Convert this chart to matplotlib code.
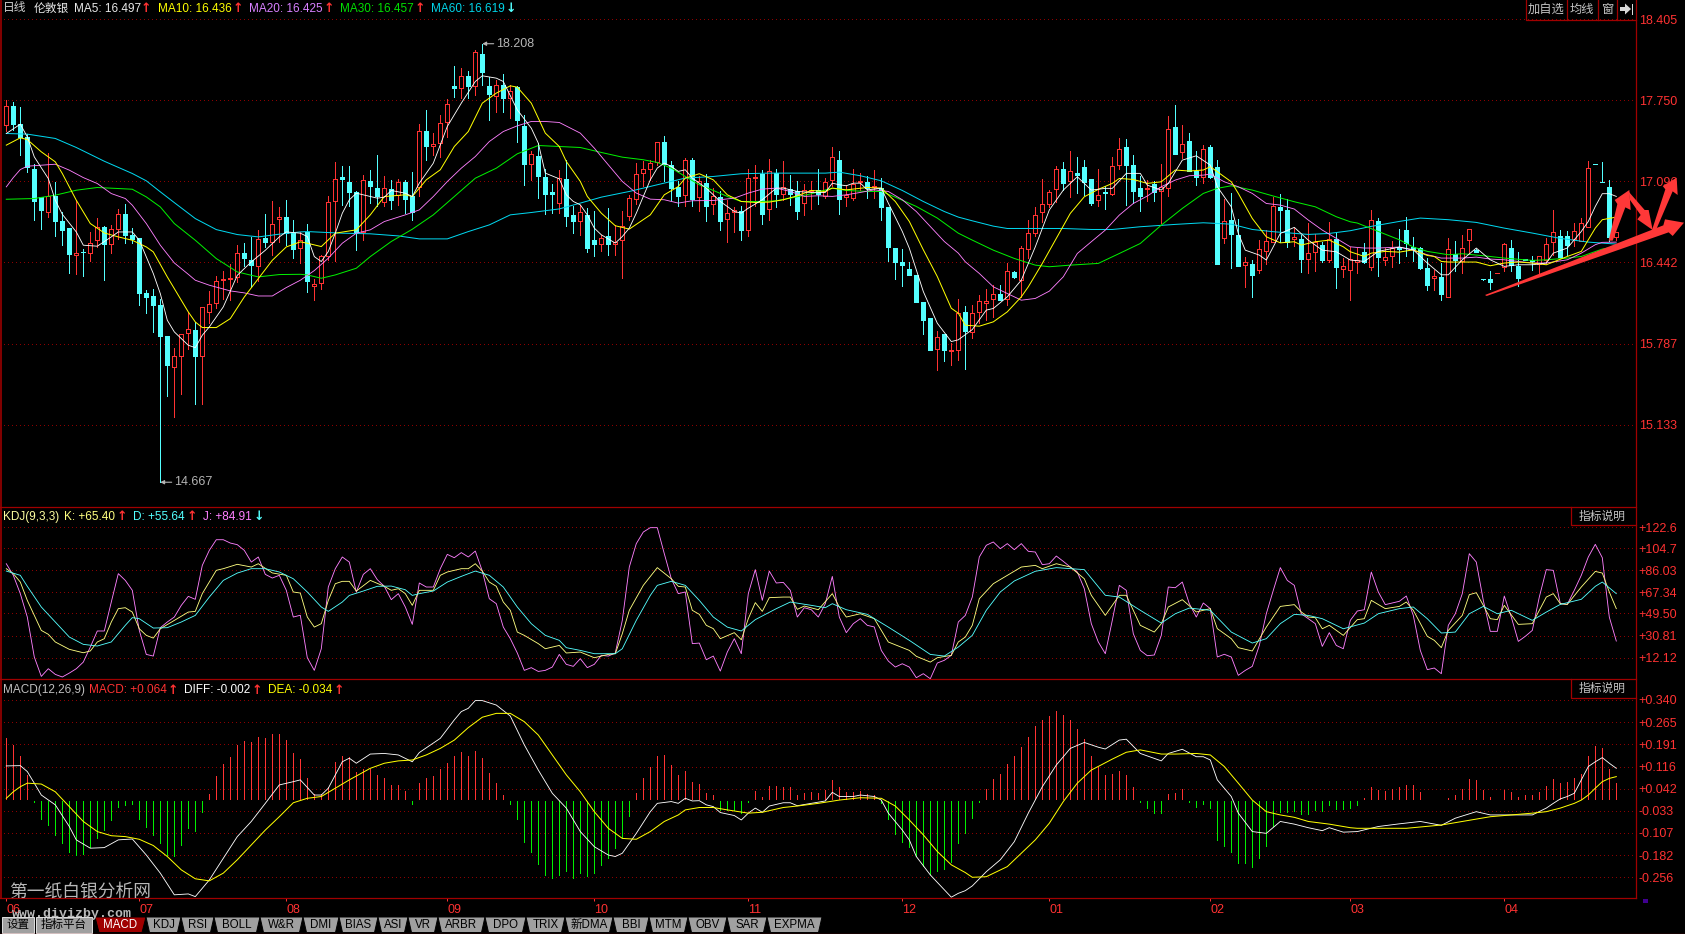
import matplotlib
matplotlib.use("Agg")
import matplotlib.pyplot as plt
from matplotlib.patches import Polygon, Rectangle

plt.rcParams['font.family'] = ['Liberation Sans', 'Noto Sans CJK SC', 'DejaVu Sans']

opens = [17.553,17.704,17.559,17.454,17.195,16.97,16.852,16.98,16.775,16.72,
16.50,16.53,16.52,16.625,16.724,16.59,16.713,16.83,16.66,16.64,
16.195,16.17,16.097,15.846,15.598,15.69,15.87,15.90,15.688,16.04,
16.115,16.30,16.31,16.325,16.52,16.46,16.415,16.64,16.605,16.795,
16.81,16.68,16.557,16.69,16.255,16.274,16.49,16.937,17.133,17.09,
17.007,16.686,17.10,17.045,16.926,17.034,16.985,17.09,16.975,17.055,
17.50,17.38,17.405,17.572,17.868,17.85,17.946,17.863,18.127,17.868,
17.782,17.874,17.766,17.858,17.545,17.233,17.303,17.13,17.012,16.921,
17.118,16.827,16.778,16.827,16.625,16.592,16.652,16.592,16.62,16.813,
16.953,17.16,17.2,17.25,17.414,17.228,17.048,16.99,17.27,16.97,
17.083,16.91,16.97,16.79,16.848,16.854,16.70,17.125,17.155,16.87,
17.163,16.996,17.037,17.015,16.921,17.015,17.028,16.98,17.104,17.271,
16.972,16.966,17.093,17.093,17.048,17.042,16.891,16.557,16.447,16.39,
16.342,16.124,15.995,15.742,15.865,15.728,15.736,16.04,15.88,16.043,
16.116,16.148,16.186,16.143,16.366,16.304,16.552,16.681,16.851,16.913,
17.031,17.193,17.10,17.16,17.209,17.115,16.943,17.013,16.994,17.225,
17.373,17.228,17.042,17.037,17.072,17.015,17.04,17.535,17.336,17.422,
17.18,17.128,17.373,17.212,16.636,16.784,16.662,16.423,16.428,16.382,
16.536,16.609,16.889,16.864,16.635,16.635,16.471,16.526,16.582,16.46,
16.635,16.39,16.377,16.442,16.525,16.409,16.778,16.46,16.49,16.566,
16.706,16.566,16.557,16.396,16.315,16.323,16.16,16.511,16.45,16.62,
16.544,16.307,16.307,16.355,16.409,16.557,16.415,16.47,16.463,16.431,
16.463,16.603,16.657,16.657,16.633,16.611,16.732,17.239,17.093,17.05,
16.649]
closes = [17.704,17.559,17.454,17.209,16.94,16.864,16.98,16.775,16.703,16.51,
16.52,16.525,16.595,16.724,16.59,16.708,16.83,16.66,16.63,16.197,
16.16,16.10,15.846,15.612,15.685,15.866,15.905,15.69,16.086,16.11,
16.288,16.305,16.32,16.52,16.48,16.425,16.635,16.605,16.755,16.81,
16.676,16.55,16.62,16.29,16.27,16.49,16.93,17.115,17.117,17.007,
16.68,17.11,17.063,16.98,17.04,16.95,17.09,16.955,16.85,17.50,
17.38,17.40,17.567,17.72,17.847,17.946,17.863,18.14,17.976,17.804,
17.874,17.766,17.823,17.588,17.233,17.316,17.136,16.996,16.996,17.123,
16.813,16.778,16.848,16.56,16.592,16.638,16.592,16.61,16.733,16.96,
17.155,17.196,17.244,17.414,17.238,17.045,16.98,17.266,16.956,17.10,
16.90,16.975,16.773,16.84,16.867,16.70,17.123,17.13,16.835,17.18,
16.996,17.05,16.996,16.858,17.023,17.026,16.996,17.093,17.293,16.956,
16.985,17.074,17.10,17.042,17.06,16.891,16.568,16.447,16.425,16.342,
16.124,15.98,15.736,15.84,15.736,15.735,16.032,15.89,16.03,16.132,
16.127,16.183,16.137,16.369,16.323,16.555,16.676,16.821,16.91,17.007,
17.193,17.085,17.177,17.147,17.09,16.924,16.99,17.004,17.217,17.355,
17.228,17.018,16.978,17.045,17.01,17.047,17.516,17.32,17.395,17.177,
17.128,17.355,17.131,16.431,16.773,16.673,16.415,16.442,16.339,16.547,
16.611,16.894,16.867,16.609,16.646,16.471,16.522,16.606,16.458,16.63,
16.407,16.412,16.47,16.463,16.442,16.786,16.482,16.485,16.557,16.55,
16.598,16.55,16.398,16.261,16.334,16.188,16.549,16.458,16.557,16.711,
16.53,16.305,16.28,16.36,16.59,16.423,16.32,16.46,16.453,16.49,
16.59,16.687,16.485,16.584,16.697,16.759,17.204,17.233,17.088,16.644,
16.684]
highs = [17.75,17.737,17.693,17.48,17.236,16.97,17.322,17.09,16.85,16.72,
16.945,16.547,16.69,16.797,16.735,16.743,16.87,16.91,16.716,16.64,
16.22,16.23,16.15,15.846,15.747,15.866,16.04,15.96,16.086,16.21,
16.336,16.37,16.43,16.58,16.60,16.645,16.70,16.83,16.937,16.89,
16.95,16.785,16.69,16.75,16.31,16.50,16.975,17.25,17.22,17.217,
17.015,17.15,17.19,17.31,17.14,17.11,17.115,17.11,17.17,17.56,
17.675,17.486,17.634,17.763,18.03,18.01,17.99,18.16,18.208,17.94,
17.917,17.965,17.877,17.87,17.634,17.343,17.405,17.2,17.074,17.19,
17.271,16.894,16.907,16.88,16.854,16.665,16.88,16.746,16.854,16.988,
17.244,17.258,17.271,17.414,17.465,17.258,17.10,17.287,17.285,17.136,
17.155,17.04,17.015,16.948,16.888,16.90,17.196,17.23,17.19,17.28,
17.2,17.258,17.15,17.10,17.077,17.10,17.2,17.123,17.373,17.344,
17.07,17.2,17.168,17.136,17.19,17.123,16.891,16.557,16.55,16.442,
16.342,16.124,15.995,15.89,15.865,15.795,16.145,16.09,16.10,16.178,
16.23,16.258,16.258,16.44,16.37,16.574,16.784,16.891,17.115,17.03,
17.22,17.255,17.341,17.29,17.268,17.115,17.193,17.06,17.29,17.446,
17.435,17.31,17.14,17.107,17.098,17.24,17.624,17.713,17.551,17.486,
17.341,17.39,17.39,17.268,16.953,16.999,16.79,16.482,16.46,16.627,
16.703,16.972,16.994,16.958,16.716,16.662,16.757,16.671,16.609,16.768,
16.689,16.474,16.57,16.557,16.6,16.867,16.8,16.557,16.611,16.71,
16.808,16.65,16.57,16.477,16.382,16.436,16.638,16.611,16.665,16.711,
16.55,16.31,16.369,16.36,16.598,16.625,16.525,16.47,16.495,16.49,
16.643,16.867,16.7,16.692,16.759,16.8,17.263,17.239,17.255,17.11,
16.684]
lows = [17.505,17.51,17.31,17.175,16.783,16.714,16.81,16.654,16.58,16.36,
16.35,16.334,16.45,16.57,16.30,16.52,16.635,16.60,16.60,16.097,
16.035,15.88,14.667,15.36,15.195,15.38,15.74,15.30,15.297,15.954,
16.07,16.15,16.135,16.285,16.41,16.245,16.29,16.57,16.50,16.61,
16.58,16.48,16.436,16.207,16.14,16.226,16.463,16.457,16.907,16.894,
16.54,16.624,16.92,16.894,16.90,16.87,16.907,16.84,16.786,16.975,
17.27,17.31,17.29,17.454,17.78,17.77,17.77,17.79,17.876,17.59,
17.66,17.66,17.607,17.416,17.066,17.11,16.96,16.83,16.84,16.84,
16.733,16.679,16.665,16.525,16.495,16.536,16.504,16.504,16.32,16.786,
16.916,17.056,17.11,17.23,17.10,16.948,16.90,16.90,16.90,16.854,
16.773,16.83,16.70,16.61,16.684,16.625,16.657,16.90,16.754,16.786,
16.889,16.948,16.907,16.794,16.827,16.87,16.915,16.96,17.056,16.835,
16.90,16.948,17.03,16.96,16.96,16.786,16.45,16.31,16.248,16.342,
16.124,15.865,15.736,15.57,15.642,15.615,15.655,15.58,15.83,15.95,
15.975,16.0,16.137,16.10,16.32,16.164,16.479,16.654,16.77,16.89,
16.932,17.026,16.967,16.999,16.986,16.905,16.90,16.875,16.985,17.196,
16.905,16.918,16.859,16.94,16.94,16.757,16.978,17.32,17.282,17.177,
17.066,17.085,17.12,16.431,16.60,16.399,16.415,16.245,16.164,16.353,
16.433,16.609,16.609,16.568,16.574,16.366,16.358,16.374,16.447,16.447,
16.237,16.326,16.14,16.355,16.436,16.382,16.334,16.423,16.409,16.436,
16.49,16.45,16.388,16.221,16.221,16.14,16.16,16.369,16.355,16.517,
16.525,16.30,16.226,16.355,16.369,16.369,16.253,16.46,16.377,16.355,
16.436,16.503,16.477,16.503,16.576,16.611,16.732,17.233,17.088,16.611,
16.625]

ma5_i = [0,2,3,4,6,7,8,10,11,13,15,16,18,19,21,22,23,24,26,27,28,29,31,33,35,37,39,40,42,43,44,45,46,47,48,49,50,52,53,54,55,57,58,59,61,63,65,67,68,70,71,73,75,76,77,79,
80,81,82,83,84,85,87,88,89,90,92,93,94,95,96,97,98,100,102,104,105,106,108,110,111,113,115,117,118,119,120,121,122,123,125,126,128,129,131,133,135,136,
138,140,141,143,145,147,149,151,153,155,157,158,160,162,163,165,166,168,170,172,173,175,176,177,179,180,182,184,186,188,190,192,
194,196,199,201,203,205,206,208,210,212,214,216,218,220,221,223,225,226,227,228,229,230]
ma5_v = [17.483,17.558,17.456,17.294,17.119,16.944,16.831,16.688,16.581,16.573,16.648,16.688,16.688,16.621,16.352,16.19,15.975,15.881,15.773,15.754,15.854,15.921,16.083,16.338,16.446,16.54,16.648,16.688,16.678,16.651,16.489,16.449,16.53,16.678,16.839,16.947,17.001,16.974,16.961,16.969,17.023,17.001,16.974,17.082,17.243,17.54,17.728,17.903,17.949,17.93,17.903,17.674,17.526,17.405,17.163,17.117,
16.988,16.934,16.907,16.826,16.719,16.665,16.598,16.651,16.719,16.84,17.109,17.204,17.244,17.217,17.177,17.19,17.123,17.042,16.934,16.853,16.84,16.88,16.948,17.042,17.042,17.015,17.007,17.007,17.082,17.069,17.061,17.082,17.082,17.028,17.042,16.921,16.692,16.557,16.207,15.951,15.803,15.817,
15.90,16.057,16.07,16.164,16.299,16.568,16.865,17.026,17.134,17.026,17.04,17.04,17.161,17.161,17.066,17.026,17.08,17.268,17.303,17.228,17.053,16.891,16.676,16.541,16.501,16.461,16.676,16.725,16.622,16.541,16.528,16.461,
16.45,16.531,16.566,16.544,16.437,16.342,16.342,16.463,16.558,16.463,16.41,16.423,16.423,16.437,16.517,16.558,16.692,16.773,16.894,16.997,16.997,16.975]

ma10_i = [0,2,3,5,7,8,10,12,14,16,18,20,21,23,25,26,27,28,30,32,34,36,38,40,42,43,45,47,50,52,54,57,58,60,62,64,66,68,70,72,73,75,77,79,
80,82,83,85,87,89,92,94,96,97,99,101,103,105,107,109,111,113,115,117,118,120,123,125,127,129,131,133,135,136,
137,139,141,143,145,146,148,150,152,154,156,158,159,161,163,165,167,169,171,172,173,175,176,178,180,182,184,185,187,189,191,192,
194,195,197,199,201,203,204,205,206,208,210,212,214,216,218,220,223,225,226,227,228,230]
ma10_v = [17.389,17.448,17.434,17.335,17.254,17.16,16.944,16.756,16.68,16.648,16.621,16.567,16.527,16.325,16.136,16.042,15.961,15.916,15.916,15.988,16.163,16.311,16.459,16.567,16.608,16.597,16.57,16.678,16.705,16.826,16.974,16.988,16.974,17.109,17.19,17.378,17.499,17.728,17.809,17.868,17.857,17.728,17.486,17.378,
17.257,17.096,16.975,16.84,16.738,16.711,16.826,16.988,17.055,17.123,17.158,17.109,16.988,16.934,16.926,16.929,16.948,16.98,17.023,17.015,17.042,17.028,17.047,17.042,16.934,16.773,16.544,16.328,16.072,16.032,
15.935,15.927,15.962,16.043,16.164,16.245,16.434,16.636,16.838,16.972,17.032,17.08,17.12,17.112,17.08,17.093,17.188,17.18,17.188,17.215,17.174,17.093,16.999,16.797,16.649,16.6,16.609,16.582,16.609,16.622,16.568,16.528,
16.49,16.517,16.531,16.525,16.544,16.498,16.49,16.45,16.445,16.445,16.445,16.415,16.437,16.445,16.437,16.423,16.49,16.531,16.625,16.719,16.787,16.808]

ma20_i = [0,1,2,3,5,7,9,11,13,15,17,18,20,22,24,26,27,29,32,34,36,38,40,42,44,46,48,50,52,54,57,59,61,63,65,67,69,71,73,75,77,79,
82,84,86,88,90,92,94,96,98,101,104,106,108,110,112,114,116,118,120,122,124,126,128,130,132,134,136,
137,139,141,143,145,147,149,151,153,155,157,159,161,163,165,167,169,171,172,174,176,178,180,182,184,186,188,190,192,
194,196,199,201,203,205,208,210,212,214,216,218,220,223,225,227,228,230]
ma20_v = [17.052,17.127,17.192,17.219,17.227,17.235,17.187,17.127,17.079,16.998,16.958,16.904,16.756,16.581,16.438,16.346,16.298,16.258,16.212,16.196,16.171,16.171,16.239,16.298,16.376,16.476,16.597,16.678,16.705,16.772,16.826,16.866,16.974,17.095,17.203,17.297,17.418,17.499,17.545,17.58,17.58,17.572,
17.486,17.365,17.23,17.096,17.002,16.953,16.948,16.921,16.94,16.942,16.961,17.002,17.034,17.042,17.015,16.975,16.98,16.975,16.988,17.007,17.028,17.015,16.948,16.853,16.732,16.611,16.517,
16.447,16.353,16.245,16.191,16.137,16.151,16.21,16.326,16.514,16.609,16.703,16.824,16.918,16.978,17.053,17.107,17.142,17.147,17.155,17.093,17.053,16.999,16.918,16.905,16.873,16.784,16.703,16.636,16.568,
16.558,16.558,16.566,16.539,16.504,16.477,16.477,16.485,16.469,16.463,16.45,16.437,16.437,16.463,16.517,16.585,16.604,16.606]

ma30_i = [0,4,7,10,13,18,20,22,24,27,30,33,36,39,42,43,45,47,50,52,55,58,61,64,67,70,73,76,79,
82,85,88,91,93,95,97,99,101,103,105,108,110,112,115,118,120,123,125,127,130,133,136,
138,141,144,147,149,152,156,159,162,165,168,171,173,175,178,181,184,187,190,192,
193,196,199,201,203,206,208,211,214,218,220,223,225,228,230]
ma30_v = [16.952,16.958,16.985,17.025,17.047,17.033,16.971,16.89,16.756,16.621,16.473,16.365,16.325,16.344,16.346,16.341,16.314,16.341,16.395,16.489,16.611,16.71,16.826,16.974,17.122,17.203,17.319,17.386,17.378,
17.37,17.33,17.292,17.271,17.249,17.203,17.136,17.069,17.023,16.975,16.934,16.934,16.94,16.961,16.996,17.042,17.023,17.015,17.015,16.969,16.894,16.8,16.678,
16.622,16.541,16.474,16.42,16.407,16.42,16.434,16.514,16.595,16.743,16.878,16.999,17.04,17.061,17.026,16.978,16.932,16.891,16.811,16.77,
16.76,16.692,16.625,16.566,16.531,16.504,16.512,16.496,16.477,16.458,16.463,16.477,16.49,16.55,16.571]

ma60_i = [0,3,7,10,14,18,20,22,24,27,30,33,36,39,42,43,48,52,56,59,63,66,69,72,75,79,
82,85,89,93,97,101,105,109,113,117,119,122,125,128,131,134,136,
138,141,143,147,151,155,158,162,167,171,175,178,181,186,189,192,
195,199,202,206,210,214,218,222,226,230]
ma60_v = [17.483,17.478,17.443,17.37,17.259,17.16,17.101,17.012,16.925,16.796,16.707,16.667,16.648,16.67,16.688,16.691,16.678,16.673,16.656,16.632,16.632,16.691,16.745,16.826,16.845,16.874,
16.921,16.969,17.015,17.069,17.123,17.136,17.158,17.163,17.163,17.163,17.171,17.142,17.101,17.023,16.934,16.853,16.808,
16.778,16.735,16.716,16.716,16.716,16.708,16.708,16.73,16.749,16.762,16.751,16.708,16.69,16.668,16.676,16.698,
16.733,16.773,16.8,16.787,16.765,16.719,16.679,16.636,16.606,16.59]

# KDJ
j_vals = [91.6,81.8,66.3,46.5,12.7,-3.7,2.8,-2,-4.2,-0.9,2.8,8.4,21.1,34.7,34.7,59.2,83.2,77.5,69.1,35.2,14.9,13.5,37.5,42.3,46.5,56.4,64,61.5,90.2,102.9,111.9,111.9,109.1,107.7,102.9,93,97.3,82.6,79.5,81.8,69.1,46.5,48,12.1,1.4,19.7,71.9,87.4,97.3,93,67.7,82.6,87.4,78.1,72.5,61.2,66.3,55,40.3,75.3,71.9,71.9,87.4,99.5,96.7,101,97.3,102.3,85.4,62,57.8,38,28.2,16.1,1.4,3.7,0.5,1.4,4.2,14.9,
6.5,4.8,11.3,3.7,6.5,14.1,13.5,16.1,43.7,88.8,108.6,118.4,122.1,122.1,100.1,78.9,66.3,67.7,24,24.5,10.4,13.5,0.8,16.9,28.2,15.5,66.3,86.6,60.6,85.4,75.3,75.8,69.1,46.5,54.4,52.7,46.5,57.8,80.9,46.5,33.3,40.9,45.1,39.5,38.1,18.3,9.3,4.2,7,4.2,-4.8,-1.4,-5.7,7.6,9.9,14.1,42.3,47.9,63.4,97.3,107.2,110,104.3,108.6,103.5,108.6,102.1,101.5,90.8,91.6,98.1,93.6,88.8,84.6,70.5,40.9,25.4,15.5,43.7,73.3,69.1,32.4,18.3,13.8,14.4,31,71.9,71.3,76.1,57.8,46.5,58.4,53.6,12.7,15,12.7,-2.8,1.4,4.8,22.5,49.3,69.1,88.3,77.5,73.3,49.3,45.1,
40.9,21.7,33.3,22.5,19.7,43.7,51.6,52.7,84.6,67.7,57,58.4,59.8,64.3,47.9,18.3,2,3.4,-1.4,39.5,49.3,66.3,100.1,93,60.6,34.4,34.4,64.3,46.5,25.9,30.2,35.2,63.4,86.6,86,57.8,57.2,69.1,81.8,97.3,108,96.7,46.5,26.2]
k_i = [0,1,2,3,4,5,6,7,9,11,12,13,14,15,16,17,18,19,20,21,22,24,26,27,28,30,31,33,35,36,38,40,41,42,43,44,45,46,47,48,49,50,52,54,55,56,57,58,59,61,62,63,65,66,67,68,69,70,71,72,73,74,76,77,79,
80,82,84,86,87,88,89,91,93,95,96,97,98,99,100,101,102,104,105,106,107,108,109,111,112,113,114,116,118,119,120,122,124,126,129,130,132,133,135,136,137,138,139,141,143,145,147,148,150,152,154,155,157,159,160,162,164,165,166,168,170,172,173,175,176,178,180,182,184,185,
186,187,188,189,191,193,194,195,197,199,200,201,203,204,205,206,208,209,210,211,212,213,214,216,218,220,221,222,223,225,227,228,229,230]
k_v = [87.4,83.2,76.1,60.6,47.9,35.2,31.9,25.4,19.2,16.3,17.8,25.4,28.2,42.3,53.6,54.4,50.7,36.6,31,28.7,36.6,43.7,50.7,51.3,66.3,86,87.4,91.1,88.8,91.6,83.8,81.8,67.7,66.8,46.5,38,40.9,60.6,74.7,76.7,76.7,68.5,77.5,72.5,69.1,70.5,66.3,56.4,69.1,69.1,81.8,84.6,87.4,87.4,91.6,85.4,76.1,72.5,59.2,52.2,33.8,31,24,19.7,22.5,
16.1,16.9,12.1,14.9,15.5,32.4,52.2,73.3,88.3,78.9,72.5,71.9,52.2,48.8,39.5,36.7,28.2,33.3,27.3,45.1,58.7,51.3,62.9,63.4,63.4,53,55.8,52.7,66.3,55,46.5,49.3,45.1,25.4,18.3,13.3,8.4,12.1,14.1,25.4,29.6,39.5,62,74.7,81.8,88.8,90.2,87.4,91.6,88.8,78.9,64.9,47.9,64.9,64.9,39.5,33.8,40.9,55,61.2,50.8,53.6,36.7,28.2,20.6,17.8,38,55.5,57,50.8,
46.5,46,36.6,39.5,31,44.3,45.1,60.6,53.6,55.5,59.2,52.2,30.2,26.8,20.6,35.2,47.9,65.4,67.1,56.4,45.1,44.3,56.4,40.3,40.9,63.4,66.3,57.8,57.2,71.9,85.1,83.7,67.7,53.6]
d_i = [0,2,3,5,7,9,11,13,15,17,18,19,21,23,25,27,29,31,33,35,37,39,41,43,45,46,48,49,51,53,55,57,58,59,61,63,65,67,69,71,73,75,77,79,
80,82,84,87,88,90,92,93,95,97,99,101,103,105,107,110,112,115,117,118,120,123,126,129,132,134,136,138,140,142,144,147,150,154,157,159,162,165,167,169,172,175,178,180,182,184,186,
188,191,194,196,199,201,203,205,207,209,211,213,215,218,220,222,225,227,228,230]
d_v = [85.4,81.8,72.5,55,42.3,29.6,23.4,22,25.4,39.5,46,45.1,37.2,37.5,42.3,47.9,63.4,77.5,83.7,87.4,87.4,84.6,78.9,67.7,55,51.3,59.2,64.8,68.5,72.5,72.7,69.6,64.8,66.3,68.5,76.1,80.9,85.4,81.8,71.9,55,40.9,31,26.8,
20.6,18.3,15.5,15.5,19.7,43.7,64.8,73.3,76.7,73.3,60.6,46.5,38,34.7,44.3,53.6,59.2,56.4,54.4,57.8,52.7,48.8,38,26.8,14.9,13.5,21.1,31,52.2,67.7,77,85.2,88.3,86.6,64.9,63.4,52.2,41.4,49.3,54.1,52.2,33.8,24.5,28.2,40.9,48.8,47.9,
45.1,36.6,41.4,49.3,53.6,55,45.1,33,33.8,49.3,55.5,49.3,52.2,43.7,50.7,57.2,61.5,72.5,76.1,66.3]

# MACD histogram
macd_hist = [.208,.183,.146,.082,-.003,-.061,-.081,-.114,-.142,-.173,-.181,-.178,-.154,-.126,-.098,-.064,-.021,-.013,-.010,-.061,-.089,-.114,-.142,-.182,-.184,-.148,-.092,-.100,-.036,.020,.081,.121,.145,.185,.197,.196,.211,.208,.220,.222,.200,.158,.138,.074,.020,.020,.043,.127,.149,.144,.093,.102,.104,.084,.073,.050,.050,.028,-.010,.057,.074,.080,.102,.125,.147,.162,.147,.165,.140,.091,.057,.017,-.010,-.061,-.137,-.172,-.212,-.249,-.261,-.249,-.235,-.258,-.243,-.251,-.241,-.215,-.191,-.159,-.120,-.050,.022,.074,.112,.149,.151,.116,.082,
.096,.059,.054,.022,.015,-.030,-.030,-.030,-.042,-.002,.031,.009,.045,.045,.043,.043,.015,.024,.026,.024,.034,.065,.043,.026,.026,.029,.020,.015,-.008,-.062,-.111,-.137,-.154,-.184,-.219,-.246,-.236,-.228,-.204,-.142,-.107,-.056,-.002,.037,.071,.088,.121,.146,.178,.213,.247,.267,.281,.300,.284,.270,.239,.205,.147,.110,.085,.088,.098,.084,.042,-.002,-.022,-.039,-.042,.018,.024,.035,-.002,-.019,-.010,-.022,-.131,-.150,-.171,-.210,-.210,-.224,-.191,-.150,-.083,-.036,-.036,-.033,-.045,-.044,-.030,-.033,-.013,-.028,-.028,-.025,-.013,.006,.043,.034,.029,.037,.042,.050,.050,.026,.003,.002,.002,.006,.015,.037,.071,.067,.034,.009,.002,.034,.026,.009,.015,.015,.026,.048,.071,.057,.059,.073,.088,.147,.181,.175,.104,.057]
diff_i = [0,2,3,4,5,7,9,10,12,14,16,18,20,22,24,26,27,29,31,33,35,37,39,41,42,44,45,46,48,49,50,52,54,56,58,59,62,64,65,66,67,68,70,72,74,76,78,80,82,84,86,87,88,90,92,93,95,96,
97,98,99,100,101,102,104,105,106,107,108,109,111,112,113,115,117,118,119,121,122,124,125,126,128,129,130,132,135,136,137,138,140,142,144,146,148,150,152,154,156,157,159,160,162,165,166,168,170,171,172,173,175,176,178,180,182,184,186,188,189,191,193,
196,199,202,205,207,210,212,215,218,220,221,222,223,224,225,226,227,228,229,230]
diff_v = [.118,.119,.099,.060,.020,-.013,-.086,-.131,-.159,-.157,-.131,-.128,-.182,-.243,-.316,-.313,-.322,-.266,-.193,-.120,-.069,-.008,.054,.065,.071,.020,.020,.043,.132,.144,.127,.158,.160,.155,.132,.163,.211,.273,.301,.312,.338,.338,.323,.286,.189,.104,.026,-.024,-.103,-.154,-.182,-.187,-.176,-.109,-.036,-.008,-.002,-.008,
.009,0,.001,-.013,-.019,-.039,-.049,-.064,-.041,-.024,-.038,-.017,-.006,-.006,-.016,-.008,0,.029,.015,.015,.020,.015,.003,-.041,-.098,-.131,-.187,-.249,-.324,-.311,-.302,-.286,-.238,-.198,-.137,-.041,.048,.121,.177,.197,.181,.175,.205,.208,.160,.135,.160,.174,.149,.149,.138,.071,.015,-.041,-.103,-.109,-.069,-.078,-.090,-.100,-.090,-.105,-.103,
-.086,-.077,-.069,-.082,-.058,-.036,-.047,-.047,-.047,-.024,-.008,.007,.015,.026,.071,.116,.132,.146,.127,.110]
dea_i = [0,1,2,3,5,7,9,11,13,15,17,19,21,23,25,27,29,31,33,35,37,39,41,43,45,47,49,52,54,56,58,60,62,64,66,68,70,72,74,76,78,80,82,84,86,88,90,92,94,96,
97,99,101,103,106,108,111,113,116,119,122,125,127,129,131,133,135,137,138,140,143,145,147,149,151,153,155,158,160,162,165,167,170,172,174,176,178,180,182,184,186,189,192,193,
196,200,205,212,218,220,222,224,225,226,227,228,229,230]
dea_v = [.009,.031,.048,.060,.057,.031,-.019,-.069,-.103,-.117,-.120,-.129,-.150,-.187,-.232,-.262,-.269,-.243,-.198,-.148,-.098,-.053,-.006,.009,.015,.043,.071,.110,.127,.135,.138,.155,.177,.205,.247,.282,.295,.295,.267,.222,.155,.088,.031,-.036,-.092,-.126,-.129,-.103,-.069,-.047,
-.030,-.022,-.022,-.030,-.041,-.038,-.022,-.017,-.008,.003,.011,.009,-.017,-.064,-.114,-.170,-.215,-.241,-.257,-.255,-.221,-.176,-.131,-.075,-.002,.060,.104,.141,.164,.172,.158,.158,.160,.155,.116,.060,.003,-.036,-.047,-.055,-.069,-.078,-.090,-.092,
-.092,-.092,-.081,-.053,-.041,-.036,-.024,-.008,.003,.020,.043,.065,.076,.082]

price_ticks = [18.405,17.750,17.096,16.442,15.787,15.133]
price_labels = ['18.405','17.750','17.096','16.442','15.787','15.133']
kdj_ticks = [122.6,104.7,86.03,67.34,49.50,30.81,12.12]
kdj_labels = ['+122.6','+104.7','+86.03','+67.34','+49.50','+30.81','+12.12']
macd_ticks = [.340,.265,.191,.116,.042,-.033,-.107,-.182,-.256]
macd_labels = ['+0.340','+0.265','+0.191','+0.116','+0.042','-0.033','-0.107','-0.182','-0.256']
month_pos = [0,19,40,63,84,106,128,149,172,192,214]
month_labels = ['06','07','08','09','10','11','12','01','02','03','04']
tabs = ['KDJ','RSI','BOLL','W&R','DMI','BIAS','ASI','VR','ARBR','DPO','TRIX','新DMA','BBI','MTM','OBV','SAR','EXPMA']
tab_edges = [146,181,214,260,303,339,378,408,438,485,526,565,613,649,688,727,767,822]

W, H = 1685, 934
RED = '#ff3232'; CYAN = '#54ffff'; GRID = '#8c0000'; FRAME = '#8c0000'
GRAY = '#c4c4c4'
PX = 0.72
LN = 0.62
fig = plt.figure(figsize=(W/100, H/100), dpi=100, facecolor='black')

def make_ax(y0, y1, ylim, ticks, labels):
    ax = fig.add_axes([0, 1-y1/H, 1636/W, (y1-y0)/H], facecolor='black')
    ax.set_xlim(-6.3/7, (1636-6.3)/7)
    ax.set_ylim(*ylim)
    for s in ax.spines.values():
        s.set_visible(False)
    ax.yaxis.tick_right()
    ax.set_yticks(ticks)
    ax.set_yticklabels(labels, color=RED, fontsize=9)
    ax.tick_params(axis='y', length=0, pad=2)
    ax.set_xticks([])
    ax.grid(axis='y', color=GRID, lw=PX, ls=(0, (1, 3)), antialiased=False)
    ax.set_axisbelow(True)
    return ax

ax1 = make_ax(0, 506.5, (14.471, 18.561), price_ticks, price_labels)
ax2 = make_ax(506.5, 679, (-5.9, 140.0), kdj_ticks, kdj_labels)
ax3 = make_ax(679, 898, (-.3267, .4107), macd_ticks, macd_labels)

# candles
n = len(opens)
idx = list(range(n))
up = [i for i in idx if closes[i] >= opens[i]]
dn = [i for i in idx if closes[i] < opens[i]]
ax1.vlines(up, [lows[i] for i in up], [highs[i] for i in up], color=RED, lw=PX, antialiased=False, zorder=2)
ax1.vlines(dn, [lows[i] for i in dn], [highs[i] for i in dn], color=CYAN, lw=PX, antialiased=False, zorder=2)
bw = 4.0/7
ax1.bar(up, [closes[i]-opens[i] for i in up], bottom=[opens[i] for i in up], width=bw,
        facecolor='black', edgecolor=RED, lw=PX, antialiased=False, zorder=3)
ax1.bar(dn, [closes[i]-opens[i] for i in dn], bottom=[opens[i] for i in dn], width=bw,
        facecolor=CYAN, edgecolor=CYAN, lw=PX, antialiased=False, zorder=3)

ax1.plot(ma60_i, ma60_v, color='#00d8f0', lw=LN+.1, zorder=4)
ax1.plot(ma30_i, ma30_v, color='#00f000', lw=LN+.1, zorder=5)
ax1.plot(ma20_i, ma20_v, color='#ff80ff', lw=LN, zorder=6)
ax1.plot(ma10_i, ma10_v, color='#ffff00', lw=LN+.1, zorder=7)
ax1.plot(ma5_i, ma5_v, color='#ffffff', lw=LN, zorder=8)

grey_arrow = dict(arrowstyle='-|>,head_length=0.25,head_width=0.13', color='#b4b4b4', lw=0.8, shrinkA=0, shrinkB=0)
ax1.annotate('18.208', xy=(68, 18.208), xytext=(10.2, 0), textcoords='offset points', color='#b4b4b4',
             fontsize=9, va='center', arrowprops=grey_arrow, zorder=9)
ax1.annotate('14.667', xy=(22, 14.667), xytext=(10.2, 0), textcoords='offset points', color='#b4b4b4',
             fontsize=9, va='center', arrowprops=grey_arrow, zorder=9)

# KDJ
ax2.plot(range(len(j_vals)), j_vals, color='#ff80ff', lw=LN, zorder=3)
ax2.plot(k_i, k_v, color='#ffff80', lw=LN, zorder=4)
ax2.plot(d_i, d_v, color='#54ffff', lw=LN, zorder=5)

# MACD
pos = [i for i, v in enumerate(macd_hist) if v >= 0]
neg = [i for i, v in enumerate(macd_hist) if v < 0]
ax3.vlines(pos, 0.008, [macd_hist[i] + 0.004 for i in pos], color=RED, lw=PX, antialiased=False, zorder=2)
ax3.vlines(neg, 0, [macd_hist[i] for i in neg], color='#00f000', lw=PX, antialiased=False, zorder=2)
ax3.plot(diff_i, diff_v, color='#ffffff', lw=LN, zorder=4)
ax3.plot(dea_i, dea_v, color='#ffff00', lw=LN+.1, zorder=5)
ax3.set_xticks(month_pos)
ax3.set_xticklabels(month_labels, color=RED, fontsize=9, ha='left')
ax3.tick_params(axis='x', length=2.5, width=PX, color=RED, pad=1.5)

# overlay in pixel coordinates for the terminal chrome
ov = fig.add_axes([0, 0, 1, 1], facecolor='none', zorder=20)
ov.set_xlim(0, W); ov.set_ylim(H, 0); ov.axis('off')

for y in (506.5, 679, 898):
    ov.plot([0, 1636], [y, y], color='#a00000', lw=0.9)
ov.plot([1636, 1636], [0, 898], color='#a00000', lw=0.9)
ov.add_patch(Rectangle((0, 0), 2, 898, facecolor='#800000', edgecolor='none'))
ov.plot([0, W], [933.5, 933.5], color='#a00000', lw=0.9)
ov.add_patch(Rectangle((1643, 898.5), 4.5, 4.5, facecolor='#400090', edgecolor='none'))

def head(items, y):
    for x, s, c in items:
        if s in ('↑', '↓'):
            ov.text(x, y, s, color=c, fontsize=9, fontweight='bold', family=['DejaVu Sans'], ha='center', va='center')
        else:
            ov.text(x, y, s, color=c, fontsize=8.5, ha='left', va='center')

head([(3, '日线', '#d0d0d0'), (34, '伦敦银', '#e8e8e8'),
      (74, 'MA5: 16.497', '#e8e8e8'), (146, '↑', RED),
      (158, 'MA10: 16.436', '#ffff00'), (238, '↑', RED),
      (249, 'MA20: 16.425', '#d880ff'), (329, '↑', RED),
      (340, 'MA30: 16.457', '#00e000'), (420, '↑', RED),
      (431, 'MA60: 16.619', '#00d4e8'), (511, '↓', CYAN)], 8.5)
head([(2.5, 'KDJ(9,3,3)', '#ffffa0'), (64, 'K: +65.40', '#ffff80'), (122, '↑', RED),
      (133, 'D: +55.64', CYAN), (192, '↑', RED),
      (203, 'J: +84.91', '#ff80ff'), (259, '↓', CYAN)], 516.7)
head([(2.5, 'MACD(12,26,9)', '#c0c0c0'), (89, 'MACD: +0.064', RED), (173, '↑', RED),
      (184, 'DIFF: -0.002', '#ffffff'), (257, '↑', RED),
      (268, 'DEA: -0.034', '#ffff00'), (339, '↑', RED)], 690)

# top right buttons
ov.plot([1525.7, 1525.7, 1636], [0, 19.5, 19.5], color='#a00000', lw=0.9)
for x in (1567, 1598, 1617):
    ov.plot([x, x], [0, 19.5], color='#a00000', lw=0.9)
for x, s in ((1546, '加自选'), (1582, '均线'), (1607, '窗')):
    ov.text(x, 10, s, color=GRAY, fontsize=8.8, ha='center', va='center')
ov.add_patch(Polygon([(1620, 7), (1625, 7), (1625, 3.5), (1631, 9), (1625, 14.5), (1625, 11), (1620, 11)],
                     facecolor='#d8d8d8', edgecolor='none'))
ov.add_patch(Rectangle((1631.5, 3.5), 1.6, 11, facecolor='#d8d8d8', edgecolor='none'))

# indicator buttons
for y0 in (506.5, 679):
    ov.plot([1570.7, 1570.7, 1636], [y0, y0+18.5, y0+18.5], color='#a00000', lw=0.9)
    ov.text(1602, y0+10.3, '指标说明', color=GRAY, fontsize=8.5, ha='center', va='center')

# watermark
ov.text(9, 892, '第一纸白银分析网', color='#b8b8b8', fontsize=12.8, ha='left', va='center')
ov.text(12, 913.5, 'www.diyizby.com', color='#b8b8b8', fontsize=9.5, fontweight='bold',
        family=['Liberation Mono'], ha='left', va='center')

# tab bar
for x0, x1, s in ((1.6, 34, '设置'), (36, 92, '指标平台')):
    ov.add_patch(Rectangle((x0, 917), x1-x0, 15.5, facecolor='#a0a0a0', edgecolor='#e0e0e0', lw=0.7))
    ov.text((x0+x1)/2, 925, s, color='black', fontsize=8.3, ha='center', va='center')
ov.add_patch(Polygon([(95, 917), (146, 917), (142, 932.5), (99, 932.5)], facecolor='#a00000', edgecolor='black', lw=0.7))
ov.text(120.5, 925, 'MACD', color='white', fontsize=8.3, ha='center', va='center')
for k, s in enumerate(tabs):
    x0, x1 = tab_edges[k], tab_edges[k+1]
    ov.add_patch(Polygon([(x0, 917), (x1, 917), (x1-3.5, 932.5), (x0+3.5, 932.5)], facecolor='#a0a0a0', edgecolor='black', lw=0.7))
    ov.text((x0+x1)/2, 925, s, color='black', fontsize=8.3, ha='center', va='center')

# hand drawn red arrows
def z(points):
    return [(1300+a/3, b/3) for a, b in points]
AR = '#ff3838'
for shape in (
    [(555, 885), (1090, 676), (1095, 658), (1152, 668), (1118, 708), (1106, 697), (560, 888)],
    [(926, 722), (952, 612), (944, 600), (988, 570), (992, 630), (976, 622), (938, 722)],
    [(986, 575), (1034, 630), (1046, 630), (1058, 690), (1012, 658), (1022, 645), (990, 600)],
    [(1056, 690), (1096, 568), (1088, 558), (1130, 533), (1133, 585), (1118, 574), (1068, 690)],
):
    ov.add_patch(Polygon(z(shape), facecolor=AR, edgecolor='none', zorder=10))

fig.savefig('out.png', dpi=100, facecolor='black')
